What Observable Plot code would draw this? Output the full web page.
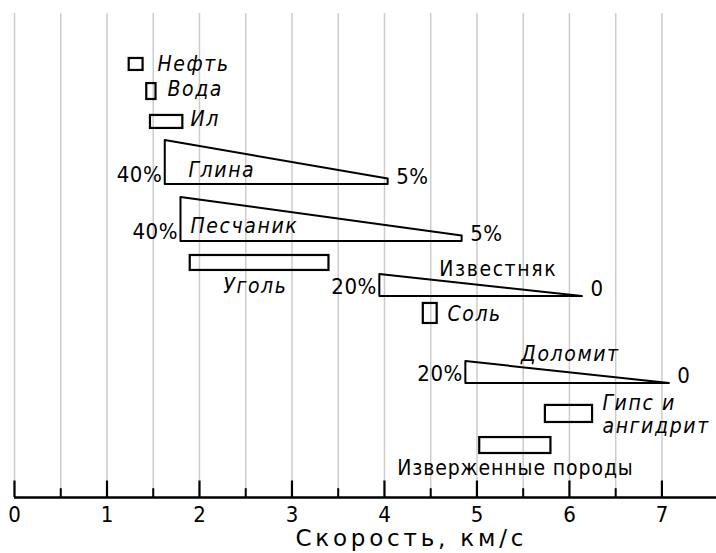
<!DOCTYPE html>
<html>
<head>
<meta charset="utf-8">
<script src="https://cdn.jsdelivr.net/npm/d3@7"></script>
<script src="https://cdn.jsdelivr.net/npm/@observablehq/plot@0.6"></script>
<style>
  html, body { margin: 0; padding: 0; background: #fff; }
  #chart svg { display: block; }
</style>
</head>
<body>
<div id="chart"></div>
<script>
// ---- data (velocity in km/s, porosity in %) ----
const rocks = ["Нефть", "Вода", "Ил", "Глина", "Песчаник", "Уголь", "Известняк", "Соль", "Доломит", "Гипс и ангидрит", "Изверженные породы"];
const vMin = [1.24, 1.43, 1.47, 1.63, 1.80, 1.90, 3.95, 4.42, 4.88, 5.74, 5.03];
const vMax = [1.39, 1.53, 1.82, 4.04, 4.84, 3.40, 6.14, 4.57, 7.08, 6.25, 5.80];
const porosityAtMin = [null, null, null, 40, 40, null, 20, null, 20, null, null];
const porosityAtMax = [null, null, null, 5, 5, null, 0, null, 0, null, null];
const tickLabels = [0, 1, 2, 3, 4, 5, 6, 7];
const gridSteps = [0, 0.5, 1, 1.5, 2, 2.5, 3, 3.5, 4, 4.5, 5, 5.5, 6, 6.5, 7];
const xLabel = "Скорость, км/с";

// ---- layout (vertical rows, label placement) ----
const rowBase = [388.2, 361.8, 335.5, 284.5, 232.7, 206.4, 182.7, 158.2, 103.6, 68.2, 40];
const boxH = [10.9, 14.5, 11.8, null, null, 13.6, null, 18.2, null, 15.5, 14.5];
const nameText = ["Нефть", "Вода", "Ил", "Глина", "Песчаник", "Уголь", "Известняк", "Соль", "Доломит", "Гипс и\nангидрит", "Изверженные породы"];
const nameX = [1.546, 1.654, 1.903, 1.881, 1.903, 2.605, 5.23, 4.681, 6.01, 6.357, 5.416];
const nameY = [394.5, 371.8, 344.5, 298.2, 247.3, 192.7, 208.2, 167.3, 130.9, 75.9, 27.3];
const nameAnchor = ["start", "start", "start", "start", "start", "middle", "middle", "start", "middle", "start", "middle"];
const nameItalic = [true, true, true, true, true, true, false, true, true, true, false];
const nameSpacing = [1.6, 1.6, 1.6, 1.6, 1.6, 1.6, 1.6, 1.6, 1.6, 1.6, 0.9];

// ---- build tables ----
const rows = rocks.map((r, i) => ({
  rock: r, vMin: vMin[i], vMax: vMax[i], pMin: porosityAtMin[i], pMax: porosityAtMax[i],
  base: rowBase[i], h: boxH[i], label: nameText[i], lx: nameX[i], ly: nameY[i],
  anchor: nameAnchor[i], italic: nameItalic[i], spacing: nameSpacing[i]
}));
const boxes = rows.filter(d => d.pMin == null);
const wedges = rows.filter(d => d.pMin != null);
const wedgePts = wedges.flatMap(d => [
  {rock: d.rock, x: d.vMin, y1: d.base, y2: d.base + d.pMin},
  {rock: d.rock, x: d.vMax, y1: d.base, y2: d.base + d.pMax}
]);
const pct = p => p === 0 ? "0" : p + "%";
const minorTicks = gridSteps.filter(v => !tickLabels.includes(v));

const FONT = "'DejaVu Sans Condensed', 'DejaVu Sans', sans-serif";
const FONT_WIDE = "'DejaVu Sans', sans-serif";

const nameMark = (filter, anchor, italic) => Plot.text(rows.filter(filter), {
  x: "lx", y: "ly", text: "label", textAnchor: anchor, fontSize: 21,
  fontStyle: italic ? "italic" : "normal", lineHeight: 1.1, fontFamily: FONT, ariaDescription: "names"
});

const chart = Plot.plot({
  width: 716,
  height: 553,
  marginLeft: 14,
  marginRight: 0,
  marginTop: 0,
  marginBottom: 56,
  x: {domain: [0, 7.59], axis: null},
  y: {domain: [0, 451.8], axis: null},
  style: {fontFamily: FONT, background: "white", color: "black"},
  marks: [
    Plot.ruleX(gridSteps, {x: d => d, y1: 0, y2: 440, stroke: "#cccccc", strokeWidth: 1.5}),
    Plot.ruleY([0], {stroke: "black", strokeWidth: 2.6}),
    Plot.ruleX(tickLabels, {x: d => d, y1: 0, y2: 15, stroke: "black", strokeWidth: 2.2}),
    Plot.ruleX(minorTicks, {x: d => d, y1: 0, y2: 8, stroke: "black", strokeWidth: 2}),
    Plot.text(tickLabels, {x: d => d, y: 0, dy: 17, text: d => String(d), fontSize: 22, fontFamily: FONT}),
    Plot.text([xLabel], {x: 4.29, y: 0, dy: 41, text: d => d, fontSize: 23, fontFamily: FONT_WIDE, ariaDescription: "xlabel"}),
    Plot.areaY(wedgePts, {x: "x", y1: "y1", y2: "y2", z: "rock", fill: "none", stroke: "black", strokeWidth: 2}),
    Plot.rect(boxes, {x1: "vMin", x2: "vMax", y1: "base", y2: d => d.base + d.h, fill: "none", stroke: "black", strokeWidth: 2.2}),
    Plot.text(wedges, {x: "vMin", y: "base", dx: -3, dy: -10, text: d => pct(d.pMin), textAnchor: "end", fontSize: 22, fontFamily: FONT, ariaDescription: "pct"}),
    Plot.text(wedges, {x: "vMax", y: "base", dx: 8, dy: -8, text: d => pct(d.pMax), textAnchor: "start", fontSize: 22, fontFamily: FONT, ariaDescription: "pct"}),
    nameMark(d => d.anchor === "start" && d.italic, "start", true),
    nameMark(d => d.anchor === "middle" && d.italic, "middle", true),
    nameMark(d => d.anchor === "middle" && !d.italic, "middle", false)
  ]
});
const sel = d3.select(chart);
const spacingByLabel = new Map(rows.map(d => [d.label.split("\n")[0], d.spacing]));
sel.selectAll('[aria-description="names"] text').each(function() {
  const first = (this.querySelector("tspan") || this).textContent;
  const key = [...spacingByLabel.keys()].find(k => first.startsWith(k.split("\n")[0]) || k.startsWith(first));
  d3.select(this).style("letter-spacing", (spacingByLabel.get(key) ?? 1.6) + "px");
});
sel.selectAll('[aria-description="xlabel"] text').style("letter-spacing", "3.8px");
sel.selectAll('[aria-description="pct"] text').style("letter-spacing", "0.5px");
document.getElementById("chart").appendChild(chart);
</script>
</body>
</html>
